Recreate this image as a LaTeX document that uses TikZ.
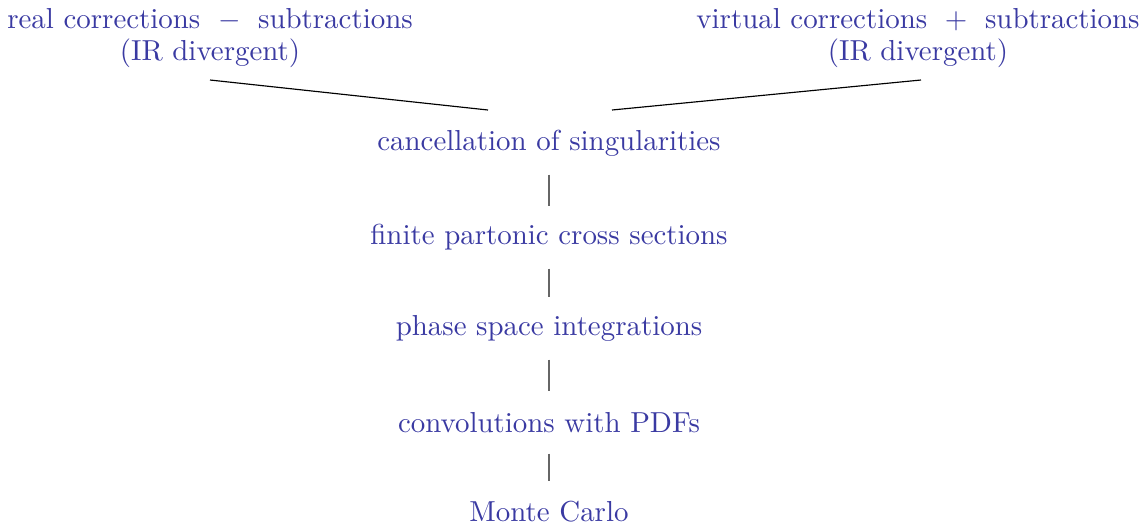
\documentclass[tikz,border=0pt]{standalone}
\definecolor{txt}{RGB}{58,58,162}
\begin{document}
\begin{tikzpicture}[x=0.346pt,y=-0.346pt,
  lab/.style={text=txt,inner sep=0pt,font=\fontsize{10}{11}\selectfont,align=center},
  vline/.style={draw=black!60,line width=0.4pt,shorten <=10.8pt,shorten >=10.8pt},
  dline/.style={draw=black,line width=0.4pt}]
\useasboundingbox (0,0) rectangle (1145,525);
\node[lab] (rl) at (210,38) {real corrections $\;-\;$ subtractions\\(IR divergent)};
\node[lab] (vi) at (918,38) {virtual corrections $\;+\;$ subtractions\\(IR divergent)};
\node[lab] (c1) at (549,143.5) {cancellation of singularities};
\node[lab] (c2) at (549,237.5) {finite partonic cross sections};
\node[lab] (c3) at (549,328.5) {phase space integrations};
\node[lab] (c4) at (549,422.5) {convolutions with PDFs};
\node[lab] (c5) at (549,512) {Monte Carlo};
\coordinate (rlend) at (210,80);
\coordinate (virend) at (921,80);
\coordinate (cl) at (488,110);
\coordinate (cr) at (612,110);
\draw[dline] (rlend) -- (cl);
\draw[dline] (virend) -- (cr);
\draw[vline] (c1.center) -- (c2.center);
\draw[vline] (c2.center) -- (c3.center);
\draw[vline] (c3.center) -- (c4.center);
\draw[vline] (c4.center) -- (c5.center);
\end{tikzpicture}
\end{document}
